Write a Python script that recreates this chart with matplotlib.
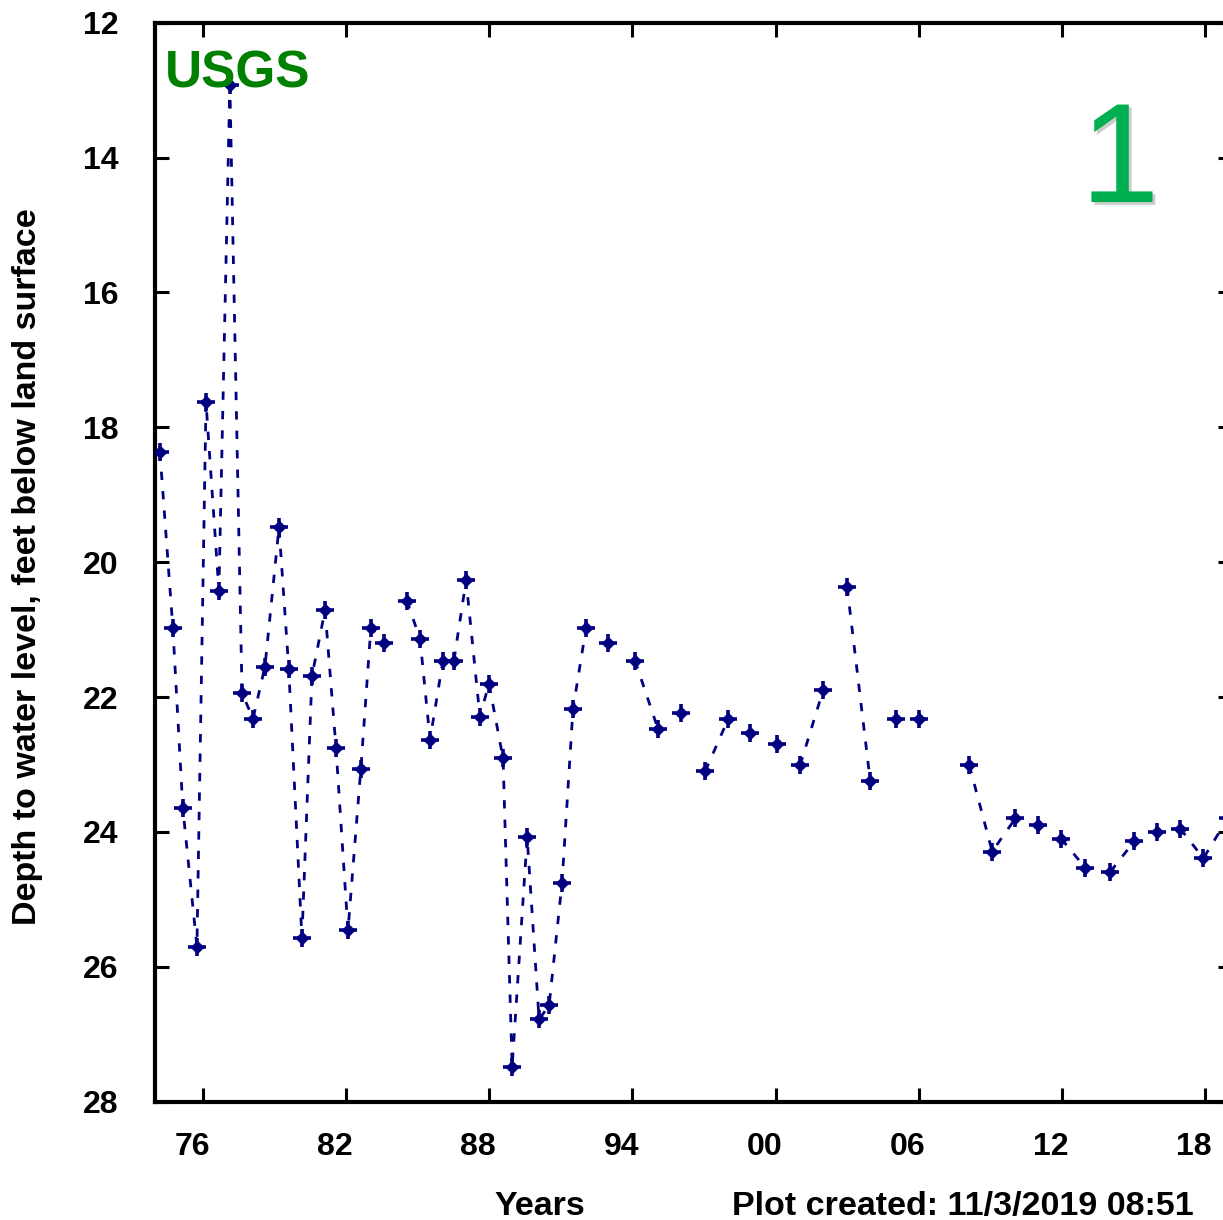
import numpy as np
import matplotlib
matplotlib.use("Agg")
import matplotlib.pyplot as plt
import matplotlib.transforms as mtransforms
import matplotlib.patheffects as pe

# Depth to water level (feet below land surface), annual measurements.
# NaN marks a break in the connecting line.
years = [1974.2, 1974.74, 1975.16, 1975.75, 1976.13, 1976.67, 1977.13, 1977.64,
         1978.1, 1978.6, 1979.19, 1979.6, 1980.15, 1980.57, 1981.12, 1981.58,
         1982.08, 1982.62, 1983.04, 1983.59, np.nan,
         1984.55, 1985.1, 1985.52, 1986.06, 1986.52, 1987.03, 1987.61, 1987.99,
         1988.58, 1988.96, 1989.59, 1990.09, 1990.51, 1991.05, 1991.51, 1992.06, np.nan,
         1992.98, np.nan,
         1994.11, 1995.08, np.nan,
         1996.04, np.nan,
         1997.05, 1998.01, np.nan,
         1998.94, np.nan,
         2000.07, np.nan,
         2001.03, 2002.0, np.nan,
         2003.0, 2003.97, np.nan,
         2005.06, np.nan,
         2006.02, np.nan,
         2008.12, 2009.08, 2010.05, np.nan,
         2011.01, np.nan,
         2011.97, 2012.98, np.nan,
         2014.03, 2015.03, np.nan,
         2016.0, np.nan,
         2016.96, 2017.93, 2018.95]
depths = [18.37, 20.97, 23.65, 25.7, 17.63, 20.42, 12.92, 21.94,
          22.32, 21.55, 19.48, 21.59, 25.57, 21.69, 20.71, 22.76,
          25.46, 23.06, 20.97, 21.2, np.nan,
          20.57, 21.14, 22.63, 21.46, 21.46, 20.27, 22.29, 21.8,
          22.91, 27.48, 24.08, 26.78, 26.57, 24.76, 22.18, 20.97, np.nan,
          21.2, np.nan,
          21.46, 22.48, np.nan,
          22.23, np.nan,
          23.1, 22.33, np.nan,
          22.53, np.nan,
          22.69, np.nan,
          23.01, 21.89, np.nan,
          20.37, 23.25, np.nan,
          22.33, np.nan,
          22.33, np.nan,
          23.01, 24.29, 23.8, np.nan,
          23.89, np.nan,
          24.1, 24.53, np.nan,
          24.59, 24.14, np.nan,
          24.0, np.nan,
          23.95, 24.39, 23.8]

tick_years = [1976, 1982, 1988, 1994, 2000, 2006, 2012, 2018]
tick_labels = ["76", "82", "88", "94", "00", "06", "12", "18"]
y_ticks = [12, 14, 16, 18, 20, 22, 24, 26, 28]

plt.rcParams['font.family'] = ['Liberation Sans', 'DejaVu Sans']
plt.rcParams['font.weight'] = 'bold'

fig = plt.figure(figsize=(12.23, 12.20), dpi=100)
W, H = 1223, 1220
ax = fig.add_axes([154.7 / W, 1 - 1101.7 / H, (1232 - 154.7) / W, (1101.7 - 22.7) / H])

line_color = '#000080'
ax.plot(years, depths, color=line_color, lw=2.0, linestyle=(0, (3, 4)), zorder=2)
ax.plot(years, depths, linestyle='none', marker='D', ms=6.5, color=line_color, zorder=3)
ax.plot(years, depths, linestyle='none', marker='+', ms=12.5, mew=2.6, color=line_color, zorder=3)

ax.set_xlim(1973.98, 2019.13)
ax.set_ylim(28, 12)
ax.set_xticks(tick_years)
ax.set_xticklabels(tick_labels)
ax.set_yticks(y_ticks)

for s in ax.spines.values():
    s.set_linewidth(3.0)
ax.tick_params(direction='in', length=10, width=2.2, top=True, right=True,
               labelsize=23)
ax.tick_params(axis='y', pad=26)
ax.tick_params(axis='x', pad=22)

# x tick labels sit a little left of their ticks in the original
offset = mtransforms.ScaledTranslation(-11 / 100, 0, fig.dpi_scale_trans)
for lab in ax.get_xticklabels():
    lab.set_transform(lab.get_transform() + offset)

fig.text(28 / W, 1 - 567 / H, "Depth to water level, feet below land surface",
         rotation=90, ha='center', va='center', fontsize=24.5, fontweight='bold')
fig.text(540 / W, 0.004, "Years", ha='center', va='baseline',
         fontsize=24.5, fontweight='bold')
fig.text(732 / W, 0.004, "Plot created: 11/3/2019 08:51", ha='left', va='baseline',
         fontsize=24.5, fontweight='bold')

ax.text(165 / W, 1 - 87 / H, "USGS", transform=fig.transFigure, color='#008000',
        fontsize=37, fontweight='bold', ha='left', va='baseline')
ax.text(1120 / W, 1 - 202 / H, "1", transform=fig.transFigure, color='#00b050',
        fontsize=102, fontweight='normal', ha='center', va='baseline',
        path_effects=[pe.withSimplePatchShadow(offset=(2, -2), shadow_rgbFace='#999999', alpha=0.5)])

fig.savefig("out.png", dpi=100)
